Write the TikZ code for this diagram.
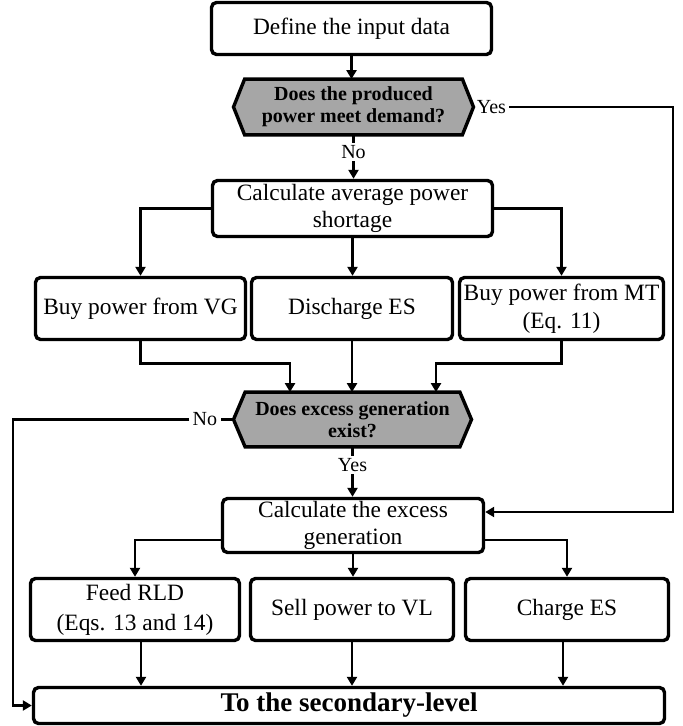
\documentclass[tikz,border=0pt]{standalone}
\usepackage{fontspec}
\setmainfont{Liberation Serif}
\usetikzlibrary{arrows.meta,calc,backgrounds}
\definecolor{decgray}{RGB}{166,166,166}
\begin{document}
\begin{tikzpicture}[x=0.5pt,y=-0.5pt,
  box/.style={draw, line width=1.7pt, rounded corners=2.5pt, align=center, inner sep=0pt, fill=white},
  txt/.style={font=\fontsize{11.7}{13.5}\selectfont},
  dec/.style={inner sep=0pt, align=center, font=\fontsize{10}{11}\selectfont\bfseries},
  lbl/.style={fill=white, inner sep=1.2pt, font=\fontsize{10}{12}\selectfont},
  conn/.style={line width=1.4pt},
  arr/.style={conn, -{Triangle[length=4.5pt,width=5pt]}},
  hexa/.style={draw, line width=1.7pt, fill=decgray, line join=miter}
]
\useasboundingbox (0,0) rectangle (683,726);

% process boxes
\node[box, txt, minimum width=140pt, minimum height=26pt] (input) at (351.5,28.5) {Define the input data};
\node[dec, minimum width=108.5pt, minimum height=27.5pt] (d1) at (353.5,107) {Does the produced\\power meet demand?};
\node[box, txt, minimum width=140pt, minimum height=28pt] (calcavg) at (352.5,208.5) {Calculate average power\\shortage};
\node[box, txt, minimum width=105pt, minimum height=31pt] (vg) at (140.5,308.5) {Buy power from VG};
\node[box, txt, minimum width=100.5pt, minimum height=31pt] (des) at (352,308.5) {Discharge ES};
\node[box, font=\fontsize{11.7}{14}\selectfont, minimum width=102pt, minimum height=31pt] (mt) at (561.5,308.5) {Buy power from MT\\(Eq. 11)};
\node[dec, minimum width=107pt, minimum height=27pt] (d2) at (352.5,419.5) {Does excess generation\\exist?};
\node[box, txt, minimum width=130.5pt, minimum height=27pt] (calcex) at (353,525.5) {Calculate the excess\\generation};
\node[box, font=\fontsize{11.7}{15}\selectfont, minimum width=104.5pt, minimum height=31pt] (feed) at (135,609.5) {Feed RLD\\(Eqs. 13 and 14)};
\node[box, txt, minimum width=101.5pt, minimum height=31pt] (sell) at (352,609.5) {Sell power to VL};
\node[box, txt, minimum width=101.5pt, minimum height=31pt] (charge) at (567,609.5) {Charge ES};
\node[box, font=\fontsize{13.5}{15}\selectfont\bfseries, minimum width=315.5pt, minimum height=18pt] (final) at (349,705.5) {To the secondary-level};

% decision hexagons
\coordinate (d1e) at ($(d1)+(120,0)$);
\coordinate (d1w) at ($(d1)+(-120,0)$);
\coordinate (d2e) at ($(d2)+(119,0)$);
\coordinate (d2w) at ($(d2)+(-119,0)$);
\begin{pgfonlayer}{background}
\draw[hexa] (d1.north west) -- (d1.north east) -- (d1e) -- (d1.south east) -- (d1.south west) -- (d1w) -- cycle;
\draw[hexa] (d2.north west) -- (d2.north east) -- (d2e) -- (d2.south east) -- (d2.south west) -- (d2w) -- cycle;
\end{pgfonlayer}

% labels at decision points
\node[inner sep=1.5pt, anchor=west, font=\fontsize{10}{12}\selectfont] (yes1) at (d1e) {Yes};
\node[inner sep=1.5pt, anchor=east, font=\fontsize{10}{12}\selectfont] (no2) at ($(d2w)+(-13,0)$) {No};

% helper coordinates
\coordinate (rc) at (673,107);
\coordinate (lc) at (13,419.5);
\coordinate (exin) at ($(calcex.east)+(0,-13.5)$);
\coordinate (d2l) at ($(d2.north)+(-62.5,0)$);
\coordinate (d2r) at ($(d2.north)+(83.5,0)$);
\coordinate (exl) at ($(calcex.west)+(0,14.5)$);
\coordinate (exr) at ($(calcex.east)+(0,14.5)$);
\coordinate (feedout) at ($(feed.south)+(6,0)$);
\coordinate (chargeout) at ($(charge.south)+(-4,0)$);

% connectors
\draw[arr] (input.south) -- (input.south |- d1.north);
\draw[arr] (d1.south) -- node[lbl, pos=0.38] {No} (d1.south |- calcavg.north);
\draw[arr] (yes1.east) -- (rc) |- (exin);
\draw[arr] (calcavg.west) -| (vg.north);
\draw[arr] (calcavg.south) -- (calcavg.south |- des.north);
\draw[arr] (calcavg.east) -| (mt.north);
\draw[arr] (vg.south) -- ++(0,22.5) -| (d2l);
\draw[arr] (des.south) -- (des.south |- d2.north);
\draw[arr] (mt.south) -- ++(0,22.5) -| (d2r);
\draw[conn] (d2w) -- (no2.east);
\draw[arr] (no2.west) -- (lc) |- (final.west);
\draw[arr] (d2.south) -- node[lbl, pos=0.36] {Yes} (d2.south |- calcex.north);
\draw[arr] (exl) -| (feed.north);
\draw[arr] (calcex.south) -- (calcex.south |- sell.north);
\draw[arr] (exr) -| (charge.north);
\draw[arr] (feedout) -- (feedout |- final.north);
\draw[arr] (sell.south) -- (sell.south |- final.north);
\draw[arr] (chargeout) -- (chargeout |- final.north);
\end{tikzpicture}
\end{document}
